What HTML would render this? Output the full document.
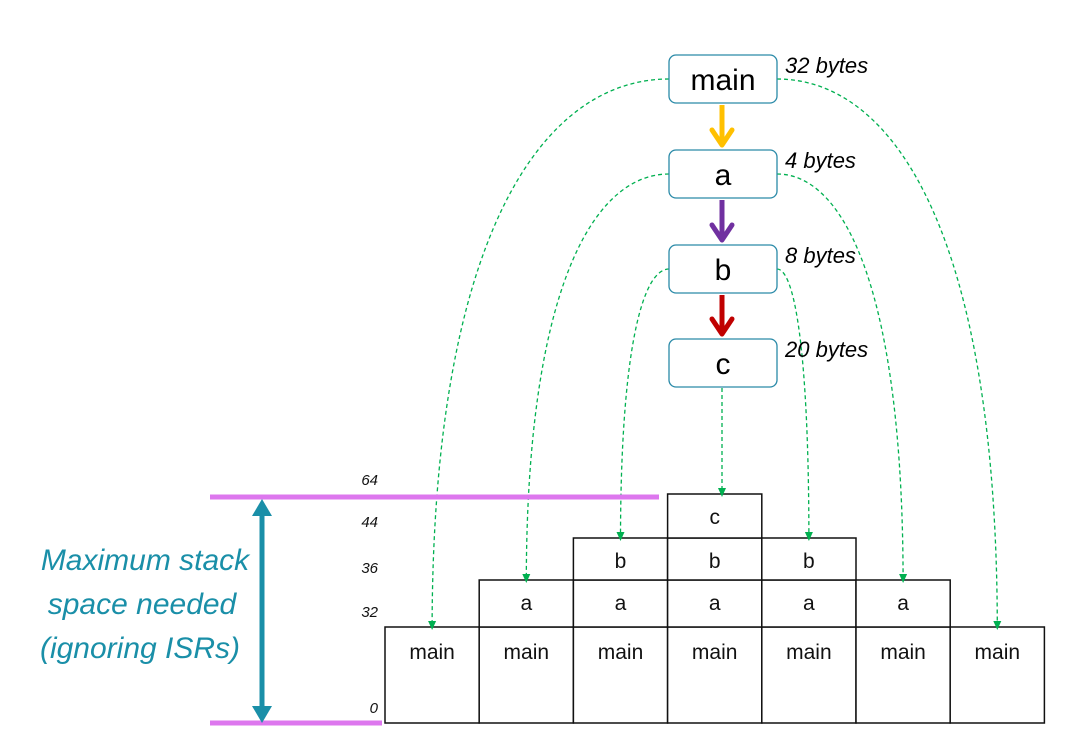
<!DOCTYPE html>
<html><head><meta charset="utf-8"><style>
html,body{margin:0;padding:0;background:#fff;}
svg{display:block;font-family:"Liberation Sans",sans-serif;}
</style></head><body>
<svg id="s" width="1069" height="738" viewBox="0 0 1069 738">
<g id="curves"></g>
<g id="calls"></g>
<g id="stack"></g>
<g id="heads"></g>
<g id="ticks"></g>
<line x1="210" y1="497" x2="659" y2="497" stroke="#dd77ee" stroke-width="5"/>
<line x1="210" y1="723" x2="382" y2="723" stroke="#dd77ee" stroke-width="5"/>
<g>
<line x1="262" y1="512" x2="262" y2="708" stroke="#1a8fa8" stroke-width="5"/>
<path d="M252,516 L262,499 L272,516 z" fill="#1a8fa8"/>
<path d="M252,706 L262,723 L272,706 z" fill="#1a8fa8"/>
</g>
<g font-style="italic" font-size="30" fill="#1a8fa8" text-anchor="middle">
<text x="145" y="570">Maximum stack</text>
<text x="142" y="614">space needed</text>
<text x="140" y="658">(ignoring ISRs)</text>
</g>
</svg>
<script>
const funcs=["main","a","b","c"];
const sizes=[32,4,8,20];
const cumTicks=["0","32","36","44","64"];
const columns=[["main"],["main","a"],["main","a","b"],["main","a","b","c"],["main","a","b"],["main","a"],["main"]];
const NS="http://www.w3.org/2000/svg";
function mk(t,a,p){const e=document.createElementNS(NS,t);for(const k in a)e.setAttribute(k,a[k]);p.appendChild(e);return e;}
const colX=i=>385+i*94.2, colW=94.2;
const rowTop=[627,580,538,494], rowBot=[723,627,580,538];
const stack=document.getElementById('stack');
columns.forEach((col,i)=>{col.forEach((f,j)=>{
 const g=mk('g',{},stack);
 
 
 mk('rect',{x:colX(i),y:rowTop[j],width:colW,height:rowBot[j]-rowTop[j],fill:'#fff',stroke:'#111','stroke-width':1.5},g);
 const t=mk('text',{x:colX(i)+colW/2,y:j==0?659:rowTop[j]+30,'text-anchor':'middle','font-size':21,fill:'#111'},g);t.textContent=f;
});});
const tickY=[713,617,573,527,485];
const tk=document.getElementById('ticks');
cumTicks.forEach((v,i)=>{const t=mk('text',{x:378,y:tickY[i],'text-anchor':'end','font-size':15,'font-style':'italic',fill:'#111'},tk);
 
 
 t.textContent=v;});
const boxY=[55,150,245,339];
const calls=document.getElementById('calls');
const arrowCol=["#ffc000","#7030a0","#c00000"];
funcs.forEach((f,i)=>{
 const g=mk('g',{},calls);
 
 
 mk('rect',{x:669,y:boxY[i],width:108,height:48,rx:7,fill:'#fff',stroke:'#2a8aa8','stroke-width':1.3},g);
 const t=mk('text',{x:723,y:boxY[i]+35,'text-anchor':'middle','font-size':30,fill:'#000'},g);t.textContent=f;
 const b=mk('text',{x:785,y:boxY[i]+18,'font-size':22,'font-style':'italic',fill:'#000'},g);b.textContent=sizes[i]+' bytes';
 if(i<3){const a=mk('g',{},calls);
  
  
  const y0=boxY[i]+50,y1=boxY[i+1]-2;
  mk('line',{x1:722,y1:y0,x2:722,y2:y1-4,stroke:arrowCol[i],'stroke-width':5},a);
  mk('polyline',{points:`712,${y1-18} 722,${y1-3} 732,${y1-18}`,fill:'none',stroke:arrowCol[i],'stroke-width':5,'stroke-linecap':'round','stroke-linejoin':'round'},a);}
});
const cv=document.getElementById('curves');
const hd=document.getElementById('heads');
function curve(name,d,ex,ey){const p=mk('path',{d:d,fill:'none',stroke:'#00b050','stroke-width':1.3,'stroke-dasharray':'4,3'},cv);
 
 
 const h=mk('path',{d:`M${ex-4},${ey-9} L${ex},${ey} L${ex+4},${ey-9} z`,fill:'#00b050'},hd);
 
 }
for(let i=0;i<3;i++){
 const yc=boxY[i]+24;
 const li=i, ri=6-i, ty=rowTop[i]+3;
 const lx=colX(li)+colW/2, rx=colX(ri)+colW/2;
 const dl=669-lx, dr=rx-777;
 curve('link-'+funcs[i]+'-left',`M669,${yc} C ${669-dl*0.55},${yc} ${lx},${yc+(ty-yc)*0.3} ${lx},${ty}`,lx,ty);
 curve('link-'+funcs[i]+'-right',`M777,${yc} C ${777+dr*0.55},${yc} ${rx},${yc+(ty-yc)*0.3} ${rx},${ty}`,rx,ty);
}
curve('link-c',`M722,388 L722,${rowTop[3]+3}`,722,rowTop[3]+3);
</script>
</body></html>
